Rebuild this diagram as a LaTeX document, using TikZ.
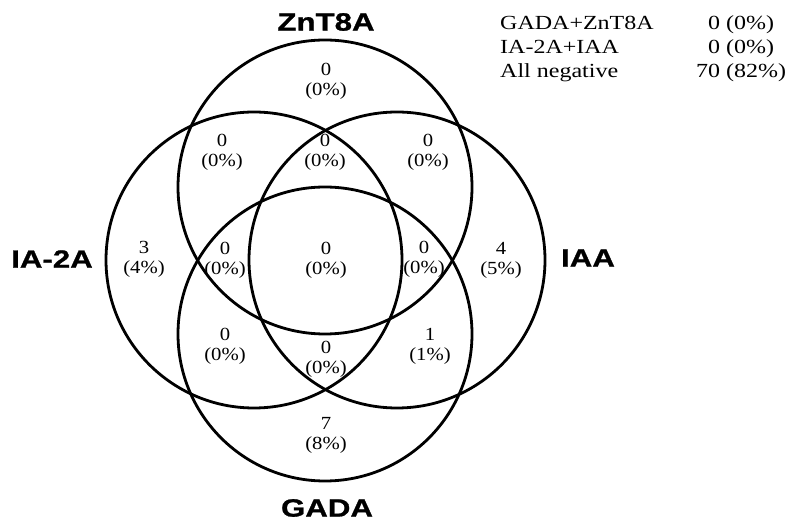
\documentclass[tikz,border=0pt]{standalone}
\usepackage{fontspec}
\setmainfont{Liberation Serif}
\newfontfamily\setlabelfont[FakeStretch=1.25,FakeBold=1]{Liberation Sans}
\newfontfamily\countfont[FakeStretch=1.12]{Liberation Serif}
\newfontfamily\legendfont[FakeStretch=1.2]{Liberation Serif}
\begin{document}
\begin{tikzpicture}[x=1pt,y=-1pt]
\tikzset{
  set/.style={draw,line width=2.8pt},
  setname/.style={font=\setlabelfont\bfseries\fontsize{25}{25}\selectfont},
  count/.style={align=center,inner sep=0pt,font=\countfont\fontsize{18.5}{20}\selectfont},
  legend/.style={inner sep=0pt,font=\legendfont\fontsize{20}{20}\selectfont}
}
\useasboundingbox (0,0) rectangle (793,526);
% the four sets
\draw[set] (325,187) circle (147);
\draw[set] (325,334) circle (147);
\draw[set] (254,260) circle (148);
\draw[set] (397,260) circle (148);
\node[setname] (znt) at (326,22) {ZnT8A};
\node[setname] (ia2) at (52,259) {IA-2A};
\node[setname] (iaa) at (588,258) {IAA};
\node[setname] (gada) at (327,508) {GADA};
% counts in each region
\node[count] (z) at (326,81) {0\\(0\%)};
\node[count] (zi2) at (222,152) {0\\(0\%)};
\node[count] (zi2iaa) at (325,152) {0\\(0\%)};
\node[count] (ziaa) at (428,152) {0\\(0\%)};
\node[count] (i2) at (144,259) {3\\(4\%)};
\node[count] (zi2g) at (225,260) {0\\(0\%)};
\node[count] (all) at (326,260) {0\\(0\%)};
\node[count] (ziaag) at (424,259) {0\\(0\%)};
\node[count] (iaa) at (501,260) {4\\(5\%)};
\node[count] (i2g) at (225,346) {0\\(0\%)};
\node[count] (i2iaag) at (326,359) {0\\(0\%)};
\node[count] (iaag) at (430,346) {1\\(1\%)};
\node[count] (g) at (326,435) {7\\(8\%)};
% legend
\node[legend,anchor=base west] (pairA) at (500,30) {GADA+ZnT8A};
\node[legend,anchor=base west] (pairB) at (500,54) {IA-2A+IAA};
\node[legend,anchor=base west] (neg) at (500,78) {All negative};
\node[legend,anchor=base] (pairAn) at (741,30) {0 (0\%)};
\node[legend,anchor=base] (pairBn) at (741,54) {0 (0\%)};
\node[legend,anchor=base] (negn) at (741,78) {70 (82\%)};
\end{tikzpicture}
\end{document}
